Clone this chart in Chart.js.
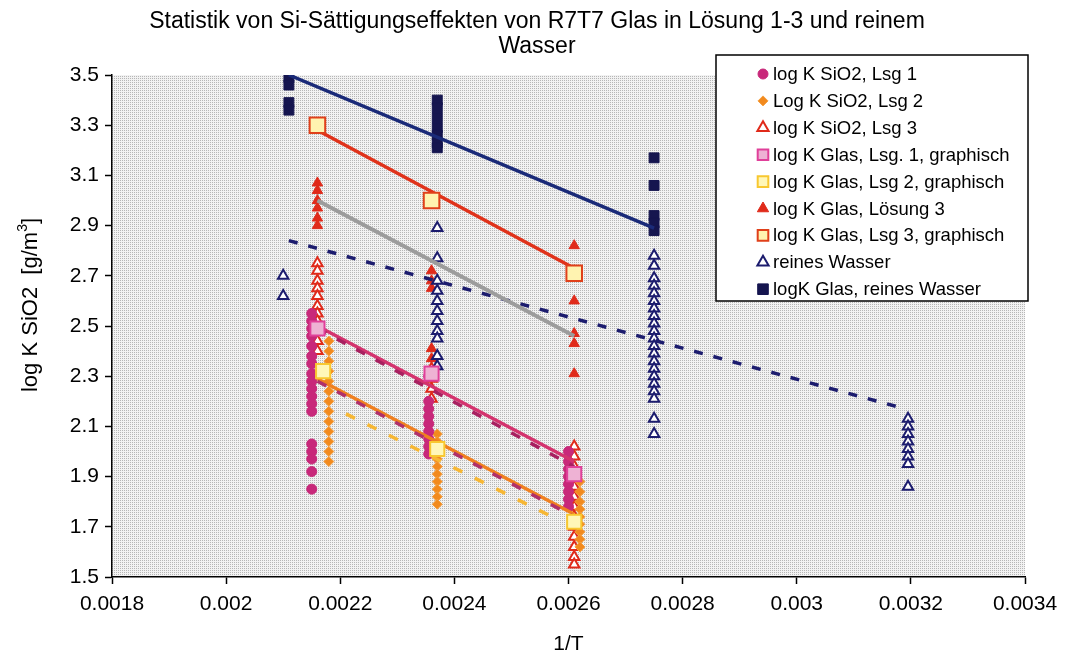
<!DOCTYPE html>
<html>
<head>
<meta charset="utf-8">
<script src="https://cdn.jsdelivr.net/npm/chart.js@4/dist/chart.umd.min.js"></script>
<style>
  html, body { margin: 0; padding: 0; background: #fff; }
  #wrap { position: relative; width: 1066px; height: 660px; }
</style>
</head>
<body>
<div id="wrap"><canvas id="myChart" width="1066" height="660"></canvas></div>
<script>
const titleLines = [
  "Statistik von Si-Sättigungseffekten von R7T7 Glas in Lösung 1-3 und reinem",
  "Wasser",
];
const yTitleParts = ["log K SiO2  [g/m", "3", "]"];
const xTickValues = [0.0018, 0.002, 0.0022, 0.0024, 0.0026, 0.0028, 0.003, 0.0032, 0.0034];
const yTickValues = [1.5, 1.7, 1.9, 2.1, 2.3, 2.5, 2.7, 2.9, 3.1, 3.3, 3.5];

// measured points, one column of y values per 1/T position
const lsg1X = [0.00215, 0.002355, 0.0026];
const lsg1Y = [
  [2.55, 2.52, 2.49, 2.46, 2.42, 2.38, 2.35, 2.31, 2.28, 2.25, 2.22, 2.19, 2.16, 2.03, 2.0, 1.97, 1.92, 1.85],
  [2.3, 2.2, 2.17, 2.14, 2.11, 2.08, 2.05, 2.02, 1.99],
  [2.0, 1.96, 1.93, 1.9, 1.87, 1.84, 1.81, 1.78],
];
const lsg2X = [0.00218, 0.00237, 0.00262];
const lsg2Y = [
  [2.44, 2.4, 2.36, 2.32, 2.28, 2.24, 2.2, 2.16, 2.12, 2.08, 2.04, 2.0, 1.96],
  [2.07, 2.04, 2.0, 1.97, 1.94, 1.91, 1.88, 1.85, 1.82, 1.79],
  [1.88, 1.84, 1.8, 1.77, 1.74, 1.71, 1.68, 1.65, 1.62],
];
const lsg3X = [0.00216, 0.00236, 0.00261];
const lsg3Y = [
  [2.75, 2.72, 2.68, 2.65, 2.62, 2.58, 2.55, 2.52, 2.48, 2.44, 2.4],
  [2.33, 2.29, 2.25, 2.21],
  [2.02, 1.98, 1.94, 1.9, 1.86, 1.82, 1.78, 1.74, 1.7, 1.66, 1.62, 1.58, 1.55],
];
const glas3X = [0.00216, 0.00236, 0.00261];
const glas3Y = [
  [3.07, 3.04, 3.0, 2.97, 2.93, 2.9],
  [2.72, 2.68, 2.65, 2.41, 2.37],
  [2.82, 2.72, 2.6, 2.47, 2.43, 2.31],
];
const wasserX = [0.0021, 0.00237, 0.00275, 0.003195];
const wasserY = [
  [2.7, 2.62],
  [2.89, 2.77, 2.68, 2.64, 2.6, 2.56, 2.52, 2.48, 2.45, 2.38, 2.34],
  [2.78, 2.74, 2.69, 2.66, 2.63, 2.6, 2.57, 2.54, 2.51, 2.48, 2.45, 2.42, 2.39, 2.36, 2.33, 2.3, 2.27, 2.24, 2.21, 2.13, 2.07],
  [2.13, 2.1, 2.07, 2.04, 2.01, 1.98, 1.95, 1.86],
];
const glasWasserX = [0.00211, 0.00237, 0.00275];
const glasWasserY = [
  [3.49, 3.46, 3.39, 3.36],
  [3.4, 3.37, 3.33, 3.29, 3.26, 3.23, 3.21],
  [3.17, 3.06, 2.94, 2.91, 2.88],
];

// graphically derived values
const graph1 = [[0.00216, 2.49], [0.00236, 2.31], [0.00261, 1.91]];
const graph2 = [[0.00217, 2.32], [0.00237, 2.01], [0.00261, 1.72]];
const graph3 = [[0.00216, 3.3], [0.00236, 3.0], [0.00261, 2.71]];

// trend lines (end points)
const trendGlasWasser = [[0.00211, 3.5], [0.00275, 2.89]];
const trendGlas3 = [[0.00216, 3.28], [0.00261, 2.73]];
const trendLsg3 = [[0.00216, 3.0], [0.00261, 2.46]];
const trendWasser = [[0.00211, 2.84], [0.00319, 2.17]];
const trendGlas1 = [[0.00216, 2.5], [0.00261, 1.96]];
const trendLsg1 = [[0.00216, 2.49], [0.00261, 1.94]];
const trendGlas2 = [[0.00216, 2.29], [0.00261, 1.75]];
const trendLsg2a = [[0.00216, 2.28], [0.00261, 1.74]];
const trendLsg2b = [[0.00221, 2.15], [0.00258, 1.73]];

const legendLabels = [
  "log K SiO2, Lsg 1",
  "Log K SiO2, Lsg 2",
  "log K SiO2, Lsg 3",
  "log K Glas, Lsg. 1, graphisch",
  "log K Glas, Lsg 2, graphisch",
  "log K Glas, Lösung 3",
  "log K Glas, Lsg 3, graphisch",
  "reines Wasser",
  "logK Glas, reines Wasser",
];

const toPoints = (xs, ys) => {
  const pts = [];
  xs.forEach((x, i) => {
    ys[i].forEach((y) => pts.push({ x: x, y: y }));
  });
  return pts;
};
const pairs = (arr) => arr.map((p) => ({ x: p[0], y: p[1] }));

const lineSet = (pts, color, width, dash) => ({
  data: pairs(pts),
  showLine: true,
  pointRadius: 0,
  borderColor: color,
  borderWidth: width,
  borderDash: dash || [],
  borderCapStyle: "butt",
  fill: false,
});

const navy = "#15154f";
const fontFamily = "'Liberation Sans', Arial, sans-serif";

// legend datasets first (kept in legend order), lines drawn on top via order
const datasets = [
  { data: toPoints(lsg1X, lsg1Y), pointStyle: "circle", pointRadius: 5, backgroundColor: "#c8287a", borderColor: "#c8287a", borderWidth: 1, order: 6 },
  { data: toPoints(lsg2X, lsg2Y), pointStyle: "rectRot", pointRadius: 5, backgroundColor: "#f28a1e", borderColor: "#f5a040", borderWidth: 1, order: 6 },
  { data: toPoints(lsg3X, lsg3Y), pointStyle: "triangle", pointRadius: 6, backgroundColor: "#ffffff", borderColor: "#e02a1a", borderWidth: 2, order: 7 },
  { data: pairs(graph1), pointStyle: "rect", pointRadius: 10, backgroundColor: "#eeb2d4", borderColor: "#e0409a", borderWidth: 2, order: 1 },
  { data: pairs(graph2), pointStyle: "rect", pointRadius: 10, backgroundColor: "#fff7b8", borderColor: "#f8c830", borderWidth: 2, order: 1 },
  { data: toPoints(glas3X, glas3Y), pointStyle: "triangle", pointRadius: 6, backgroundColor: "#e02a1a", borderColor: "#e02a1a", borderWidth: 1, order: 7 },
  { data: pairs(graph3), pointStyle: "rect", pointRadius: 11, backgroundColor: "#fff3b0", borderColor: "#e0401a", borderWidth: 2, order: 1 },
  { data: toPoints(wasserX, wasserY), pointStyle: "triangle", pointRadius: 6, backgroundColor: "#ffffff", borderColor: "#1c1c6e", borderWidth: 2, order: 4 },
  { data: toPoints(glasWasserX, glasWasserY), pointStyle: "rect", pointRadius: 7, backgroundColor: navy, borderColor: navy, borderWidth: 1, order: 5 },
  Object.assign(lineSet(trendGlasWasser, "#1a2a78", 3.5), { order: 2 }),
  Object.assign(lineSet(trendGlas3, "#e0321a", 3.5), { order: 2 }),
  Object.assign(lineSet(trendLsg3, "#9c9c9c", 4), { order: 2 }),
  Object.assign(lineSet(trendWasser, "#1c1c6e", 3.5, [9, 11]), { order: 2 }),
  Object.assign(lineSet(trendGlas1, "#d4336e", 3.5), { order: 3 }),
  Object.assign(lineSet(trendLsg1, "#a82060", 3.5, [10, 12]), { order: 2 }),
  Object.assign(lineSet(trendGlas2, "#f08020", 3.5), { order: 3 }),
  Object.assign(lineSet(trendLsg2a, "#b0306a", 3.5, [10, 12]), { order: 2 }),
  Object.assign(lineSet(trendLsg2b, "#f7b733", 3.5, [10, 14]), { order: 2 }),
];

const makePattern = (ctx) => {
  const c = document.createElement("canvas");
  c.width = 2;
  c.height = 2;
  const g = c.getContext("2d");
  g.fillStyle = "#f2f2f2";
  g.fillRect(0, 0, 2, 2);
  g.fillStyle = "#b6b6b6";
  g.fillRect(0, 0, 1, 1);
  return ctx.createPattern(c, "repeat");
};

const backgroundPlugin = {
  id: "plotBackground",
  beforeDraw: (chart) => {
    const { ctx, chartArea } = chart;
    ctx.save();
    ctx.fillStyle = makePattern(ctx);
    ctx.fillRect(chartArea.left, chartArea.top, chartArea.right - chartArea.left, chartArea.bottom - chartArea.top);
    ctx.restore();
  },
};

const titlePlugin = {
  id: "textBits",
  afterDraw: (chart) => {
    const ctx = chart.ctx;
    ctx.save();
    ctx.fillStyle = "#000";
    ctx.font = "23px " + fontFamily;
    ctx.textAlign = "center";
    ctx.textBaseline = "middle";
    ctx.fillText(titleLines[0], 537, 22);
    ctx.fillText(titleLines[1], 537, 47);

    // rotated y-axis title with superscript
    ctx.translate(31, 305);
    ctx.rotate(-Math.PI / 2);
    ctx.font = "22px " + fontFamily;
    const w0 = ctx.measureText(yTitleParts[0]).width;
    ctx.font = "14px " + fontFamily;
    const w1 = ctx.measureText(yTitleParts[1]).width;
    ctx.font = "22px " + fontFamily;
    const w2 = ctx.measureText(yTitleParts[2]).width;
    let x = -(w0 + w1 + w2) / 2;
    ctx.textAlign = "left";
    ctx.fillText(yTitleParts[0], x, 0);
    x += w0;
    ctx.font = "14px " + fontFamily;
    ctx.fillText(yTitleParts[1], x, -8);
    x += w1;
    ctx.font = "22px " + fontFamily;
    ctx.fillText(yTitleParts[2], x, 0);
    ctx.restore();
  },
};

const legendPlugin = {
  id: "boxLegend",
  afterDraw: (chart) => {
    const ctx = chart.ctx;
    const boxX = 716, boxY = 55, boxW = 312, boxH = 246;
    ctx.save();
    ctx.fillStyle = "#ffffff";
    ctx.fillRect(boxX, boxY, boxW, boxH);
    ctx.strokeStyle = "#000";
    ctx.lineWidth = 1.5;
    ctx.strokeRect(boxX, boxY, boxW, boxH);
    ctx.font = "18.5px " + fontFamily;
    ctx.textBaseline = "middle";
    legendLabels.forEach((text, i) => {
      const ds = chart.data.datasets[i];
      const y = 74 + i * 26.9;
      const x = 763;
      ctx.fillStyle = ds.backgroundColor;
      ctx.strokeStyle = ds.borderColor;
      ctx.lineWidth = ds.borderWidth;
      let r = ds.pointRadius;
      if (ds.pointStyle === "rect") r = 7.5;
      if (ds.pointStyle === "triangle") r = 6.5;
      Chart.helpers.drawPoint(ctx, { pointStyle: ds.pointStyle, radius: r, rotation: 0, borderWidth: ds.borderWidth }, x, y);
      ctx.fillStyle = "#000";
      ctx.fillText(text, 773, y + 1);
    });
    ctx.restore();
  },
};

const tickFont = { family: fontFamily, size: 21 };

const config = {
  type: "scatter",
  data: { datasets: datasets },
  options: {
    responsive: false,
    animation: false,
    layout: { padding: { top: 75, right: 41, left: 0, bottom: 0 } },
    plugins: {
      legend: { display: false },
      tooltip: { enabled: false },
    },
    scales: {
      x: {
        type: "linear",
        min: 0.0018,
        max: 0.0034,
        afterBuildTicks: (scale) => {
          scale.ticks = xTickValues.map((v) => ({ value: v }));
        },
        afterFit: (scale) => {
          scale.height = 83;
        },
        ticks: {
          color: "#000",
          font: tickFont,
          padding: 8,
          maxRotation: 0,
          callback: (v) => String(parseFloat(Number(v).toFixed(4))),
        },
        grid: { drawOnChartArea: false, tickLength: 7, color: "#000", tickWidth: 1.5 },
        border: { color: "#000", width: 1.5 },
        title: {
          display: true,
          text: "1/T",
          color: "#000",
          font: tickFont,
          padding: { top: 4, bottom: 3 },
        },
      },
      y: {
        type: "linear",
        min: 1.5,
        max: 3.5,
        afterBuildTicks: (scale) => {
          scale.ticks = yTickValues.map((v) => ({ value: v }));
        },
        afterFit: (scale) => {
          scale.width = 112;
        },
        ticks: {
          color: "#000",
          font: tickFont,
          padding: 6,
          callback: (v) => Number(v).toFixed(1),
        },
        grid: { drawOnChartArea: false, tickLength: 7, color: "#000", tickWidth: 1.5 },
        border: { color: "#000", width: 1.5 },
      },
    },
  },
  plugins: [backgroundPlugin, titlePlugin, legendPlugin],
};

const myChart = new Chart(document.getElementById("myChart"), config);
</script>
</body>
</html>
